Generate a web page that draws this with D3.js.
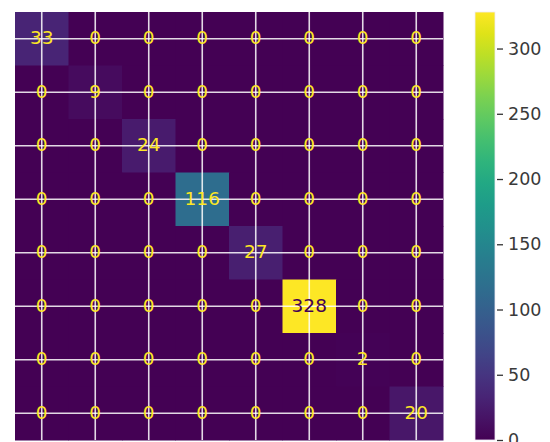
<!DOCTYPE html>
<html>
<head>
<meta charset="utf-8">
<script src="https://d3js.org/d3.v7.min.js"></script>
<style>
  body { margin: 0; background: #fff; }
  svg text { font-family: "DejaVu Sans", sans-serif; }
</style>
</head>
<body>
<svg id="chart"></svg>
<script>
// confusion matrix rows (true label) x columns (predicted label)
var labels = [0, 1, 2, 3, 4, 5, 6, 7];
var matrix = [
  [33, 0, 0, 0, 0, 0, 0, 0],
  [0, 9, 0, 0, 0, 0, 0, 0],
  [0, 0, 24, 0, 0, 0, 0, 0],
  [0, 0, 0, 116, 0, 0, 0, 0],
  [0, 0, 0, 0, 27, 0, 0, 0],
  [0, 0, 0, 0, 0, 328, 0, 0],
  [0, 0, 0, 0, 0, 0, 2, 0],
  [0, 0, 0, 0, 0, 0, 0, 20]
];
var colorTicks = [0, 50, 100, 150, 200, 250, 300];

var W = 550, H = 442;
var svg = d3.select("#chart").attr("width", W).attr("height", H);

// plot area (window.top is reserved, so use other names)
var mLeft = 15, mTop = 12, size = 428;
var vmax = d3.max(matrix, function(r) { return d3.max(r); });
var color = d3.scaleSequential(d3.interpolateViridis).domain([0, vmax]);

var x = d3.scaleBand().domain(labels).range([mLeft, mLeft + size]);
var y = d3.scaleBand().domain(labels).range([mTop, mTop + size]);

var cells = [];
matrix.forEach(function(row, i) {
  row.forEach(function(v, j) { cells.push({ r: i, c: j, v: v }); });
});

var g = svg.append("g");
g.selectAll("rect.cell")
  .data(cells)
  .enter().append("rect")
  .attr("class", "cell")
  .attr("x", function(d) { return x(d.c); })
  .attr("y", function(d) { return y(d.r); })
  .attr("width", x.bandwidth() + 0.5)
  .attr("height", y.bandwidth() + 0.5)
  .attr("fill", function(d) { return color(d.v); });

// white grid lines through cell centres (seaborn style)
g.selectAll("line.vg")
  .data(labels)
  .enter().append("line")
  .attr("x1", function(d) { return x(d) + x.bandwidth() / 2; })
  .attr("x2", function(d) { return x(d) + x.bandwidth() / 2; })
  .attr("y1", mTop).attr("y2", mTop + size)
  .attr("stroke", "#fff").attr("stroke-opacity", 0.85).attr("stroke-width", 1.6);
g.selectAll("line.hg")
  .data(labels)
  .enter().append("line")
  .attr("y1", function(d) { return y(d) + y.bandwidth() / 2; })
  .attr("y2", function(d) { return y(d) + y.bandwidth() / 2; })
  .attr("x1", mLeft).attr("x2", mLeft + size)
  .attr("stroke", "#fff").attr("stroke-opacity", 0.85).attr("stroke-width", 1.6);

// annotations
var thresh = vmax / 2;
g.selectAll("text.val")
  .data(cells)
  .enter().append("text")
  .attr("x", function(d) { return x(d.c) + x.bandwidth() / 2; })
  .attr("y", function(d) { return y(d.r) + y.bandwidth() / 2 - 1; })
  .attr("text-anchor", "middle")
  .attr("dominant-baseline", "central")
  .attr("font-size", 18.5)
  .attr("fill", function(d) { return d.v < thresh ? color(vmax) : color(0); })
  .text(function(d) { return d.v; });

// colorbar
var cbX = 475, cbW = 20;
var cy = d3.scaleLinear().domain([0, vmax]).range([mTop + size, mTop]);
var defs = svg.append("defs");
var grad = defs.append("linearGradient").attr("id", "cbgrad")
  .attr("x1", 0).attr("y1", 1).attr("x2", 0).attr("y2", 0);
d3.range(0, 1.0001, 0.05).forEach(function(t) {
  grad.append("stop").attr("offset", t).attr("stop-color", d3.interpolateViridis(t));
});
svg.append("rect")
  .attr("x", cbX).attr("y", mTop)
  .attr("width", cbW).attr("height", size)
  .attr("fill", "url(#cbgrad)")
  .attr("stroke", "#f0eaf4").attr("stroke-width", 0.8);

var axis = svg.append("g")
  .attr("transform", "translate(" + (cbX + cbW) + ",0)")
  .call(d3.axisRight(cy).tickValues(colorTicks).tickSize(6).tickPadding(7));
axis.select(".domain").remove();
axis.selectAll(".tick line").attr("stroke", "#333").attr("stroke-width", 1.3)
  .attr("x1", 2).attr("x2", 8);
axis.selectAll(".tick text")
  .attr("font-family", "DejaVu Sans, sans-serif")
  .attr("font-size", 17.5)
  .attr("fill", "#3a3a3a");
</script>
</body>
</html>
